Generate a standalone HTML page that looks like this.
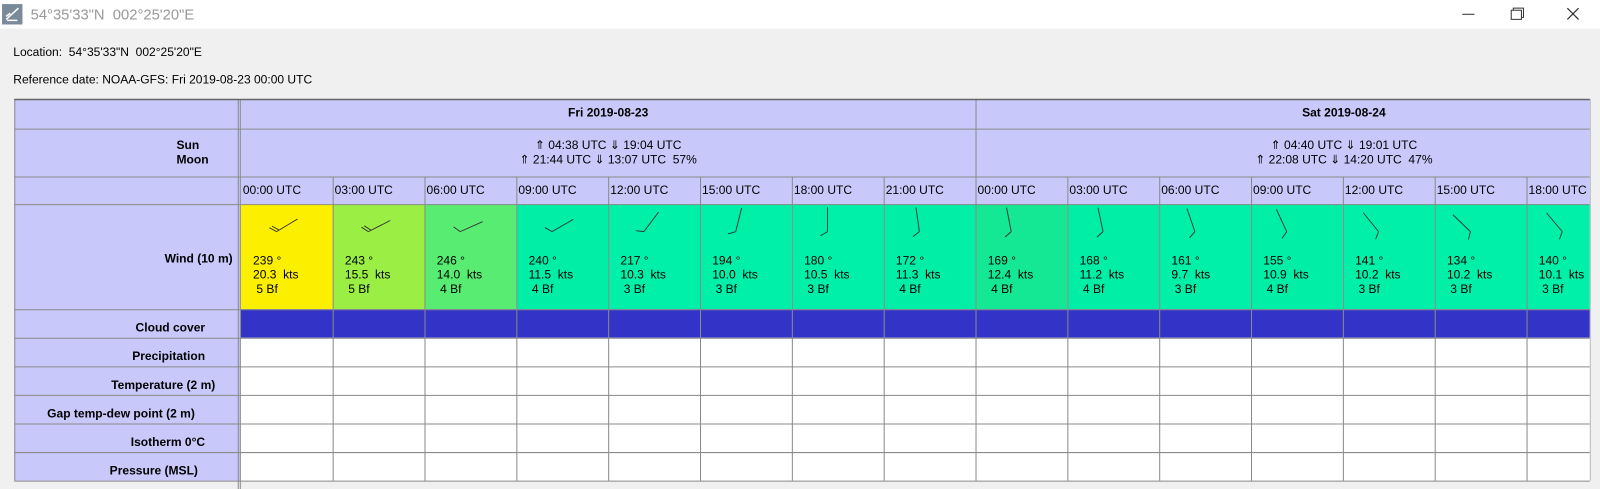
<!DOCTYPE html>
<html><head><meta charset="utf-8"><style>
body{margin:0;width:1600px;height:489px;overflow:hidden;background:#f0f0f0;font-family:"Liberation Sans",sans-serif}
svg{position:absolute;left:0;top:0}
text{white-space:pre}
</style></head><body>
<svg id="s" width="1600" height="489" viewBox="0 0 1568 479.2" preserveAspectRatio="none" font-family="Liberation Sans, sans-serif"></svg>
<script>
const times=["00:00 UTC","03:00 UTC","06:00 UTC","09:00 UTC","12:00 UTC","15:00 UTC","18:00 UTC","21:00 UTC","00:00 UTC","03:00 UTC","06:00 UTC","09:00 UTC","12:00 UTC","15:00 UTC","18:00 UTC"];
const windDir=[239,243,246,240,217,194,180,172,169,168,161,155,141,134,140];
const windKts=[20.3,15.5,14.0,11.5,10.3,10.0,10.5,11.3,12.4,11.2,9.7,10.9,10.2,10.2,10.1];
const windBf=[5,5,4,4,3,3,3,4,4,4,3,4,3,3,3];
const days=["Fri 2019-08-23","Sat 2019-08-24"];
const sunLines=["⇑ 04:38 UTC ⇓ 19:04 UTC","⇑ 04:40 UTC ⇓ 19:01 UTC"];
const moonLines=["⇑ 21:44 UTC ⇓ 13:07 UTC  57%","⇑ 22:08 UTC ⇓ 14:20 UTC  47%"];
const rowLabels=["Cloud cover","Precipitation","Temperature (2 m)","Gap temp-dew point (2 m)","Isotherm 0°C","Pressure (MSL)"];
const bfColors={5:"#fcf000",4:"#00eea6",3:"#00f0aa"};
const s=document.getElementById('s');
const NS="http://www.w3.org/2000/svg";
function el(t,a,p){const e=document.createElementNS(NS,t);for(const k in a)e.setAttribute(k,a[k]);(p||s).appendChild(e);return e;}
function tx(x,y,str,opt){const e=el('text',Object.assign({x:x,y:y,'font-size':12,fill:'#000'},opt||{}));e.textContent=str;return e;}
const X0=236,CW=90,XR=1558,L=14;
const cx=i=>X0+i*CW;
const FS=11.8;
let r=el('rect',{x:0,y:0,width:1568,height:28,fill:'#fff'});

el('rect',{x:2,y:4,width:20,height:20,fill:'#7a8a99'});
el('path',{d:'M6 19 L18 8 M6 16 L10 13 M7 20 L17 20',stroke:'#fff','stroke-width':1.5,fill:'none'});
let t=tx(30,19,"54°35'33\"N  002°25'20\"E",{'font-size':14.5,fill:'#999'});

let mn=el('path',{d:'M1433 14 H1445',stroke:'#333','stroke-width':1});
let mx=el('path',{d:'M1481 10 H1491 V19 H1481 Z M1483 10 V8 H1493 V17 H1491',stroke:'#333','stroke-width':1,fill:'none'});
let cl=el('path',{d:'M1536 8 L1547 19 M1547 8 L1536 19',stroke:'#333','stroke-width':1.2});
t=tx(13,55,"Location:  54°35'33\"N  002°25'20\"E",{'font-size':FS});
t=tx(13,82,"Reference date: NOAA-GFS: Fri 2019-08-23 00:00 UTC",{'font-size':FS});
el('rect',{x:L,y:97,width:XR-L,height:103,fill:'#c8c8fa'});
el('rect',{x:L,y:200,width:X0-L,height:271,fill:'#c8c8fa'});
windDir.forEach((d,i)=>{
  let col=bfColors[windBf[i]];
  if(i===1)col="#9aee44"; if(i===2)col="#58ec72"; if(i===8)col="#14e894";
  let c=el('rect',{x:cx(i),y:200,width:Math.min(CW,XR-cx(i)),height:103,fill:col});
  
  const vx=cx(i)+35,vy=227;
  const a=(d+180)*Math.PI/180;
  const ex=vx+24*Math.sin(a),ey=vy-24*Math.cos(a);
  let g=el('g',{stroke:'#333','stroke-width':0.9});
  
  el('line',{x1:vx,y1:vy,x2:ex,y2:ey},g);
  const nb=Math.max(1,Math.round(windKts[i]/10));
  const ba=(d+180-120)*Math.PI/180;
  for(let k=0;k<nb;k++){
    const px=vx+k*3*Math.sin(a),py=vy-k*3*Math.cos(a);
    el('line',{x1:px,y1:py,x2:px+8*Math.sin(ba),y2:py-8*Math.cos(ba)},g);
  }
  const lx=cx(i)+12;
  tx(lx,259,d+" °",{'font-size':FS});
  tx(lx,273,windKts[i].toFixed(1)+"  kts",{'font-size':FS});
  tx(lx,287," "+windBf[i]+" Bf",{'font-size':FS});
});
let cc=el('rect',{x:X0,y:303,width:XR-X0,height:28,fill:'#3333c8'});

el('rect',{x:X0,y:331,width:XR-X0,height:140,fill:'#fff'});
days.forEach((dd,j)=>{
  const m=j?(956+1678)/2:(X0+956)/2;
  let d=tx(m,114,dd,{'font-size':FS,'font-weight':'bold','text-anchor':'middle'});
  
  tx(m,146,sunLines[j],{'font-size':FS,'text-anchor':'middle'});
  tx(m,160,moonLines[j],{'font-size':FS,'text-anchor':'middle'});
});
times.forEach((tm,i)=>{let e=tx(cx(i)+2,190,tm,{'font-size':FS});});
tx(173,146,"Sun",{'font-size':FS,'font-weight':'bold'});
tx(173,160,"Moon",{'font-size':FS,'font-weight':'bold'});
t=tx(228,257,"Wind (10 m)",{'font-size':FS,'font-weight':'bold','text-anchor':'end'});
const rEnds=[201,201,211,191,201,194];
rowLabels.forEach((lb,k)=>{let e=tx(rEnds[k],325+k*28,lb,{'font-size':FS,'font-weight':'bold','text-anchor':'end'});});
const G='#8a8a8a';
[97,126,173,200,303,331,359,387,415,443,471].forEach(y=>el('line',{x1:L,y1:y+0.5,x2:XR,y2:y+0.5,stroke:G}));
el('line',{x1:L+0.5,y1:97,x2:L+0.5,y2:471,stroke:G});
el('line',{x1:233.5,y1:97,x2:233.5,y2:480,stroke:G});
el('line',{x1:235.5,y1:97,x2:235.5,y2:480,stroke:G});
el('line',{x1:956.5,y1:97,x2:956.5,y2:173,stroke:G});
for(let i=1;i<times.length;i++)el('line',{x1:cx(i)+0.5,y1:173,x2:cx(i)+0.5,y2:471,stroke:G});
el('line',{x1:XR+0.5,y1:97,x2:XR+0.5,y2:471,stroke:'#bbb'});
el('line',{x1:L,y1:97.5,x2:XR,y2:97.5,stroke:'#666','stroke-width':1.5});
</script>
</body></html>
